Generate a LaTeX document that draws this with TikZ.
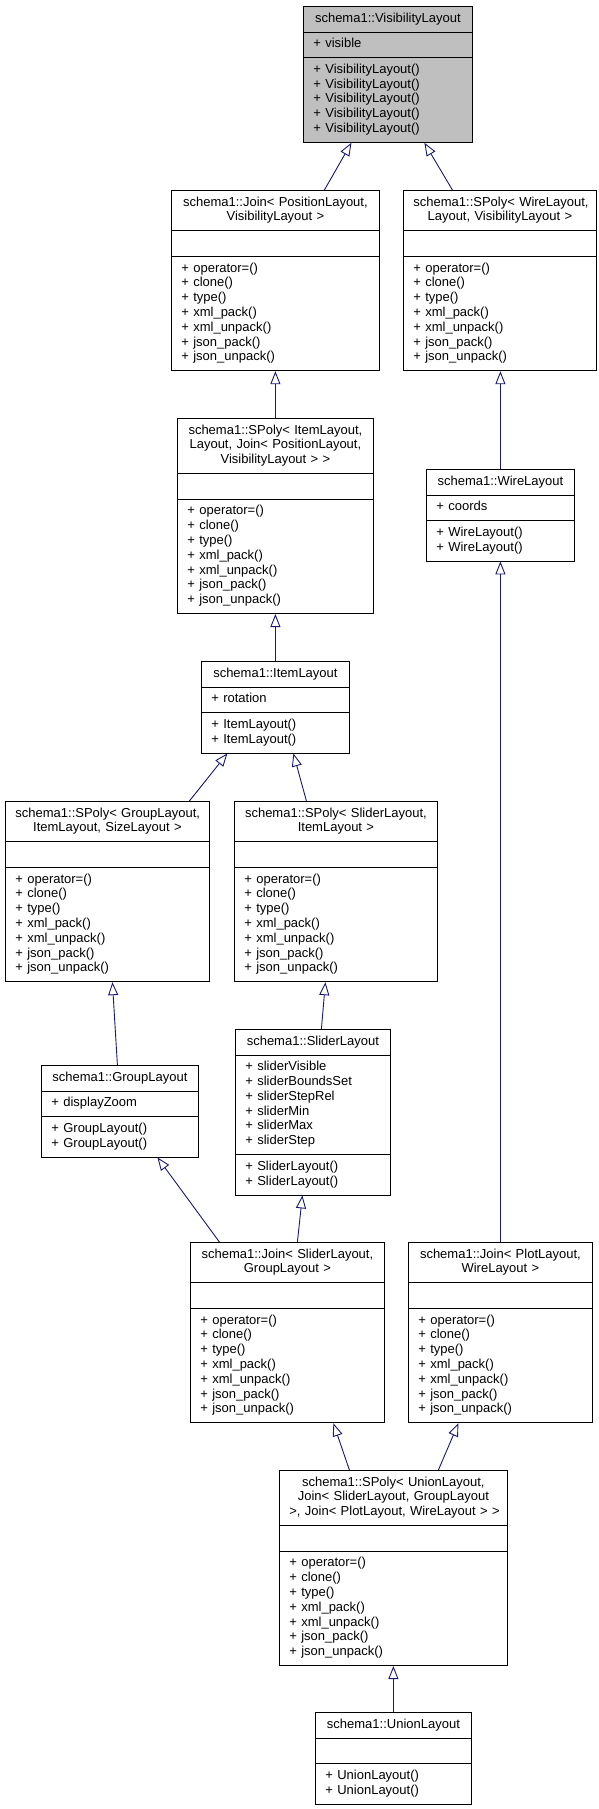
\documentclass[tikz,border=0pt]{standalone}
\usepackage{fontspec}
\setmainfont{Liberation Sans}
\usetikzlibrary{shapes.multipart,arrows.meta}
\definecolor{edgeblue}{HTML}{191970}
\definecolor{boxgray}{HTML}{BFBFBF}
\newcommand{\clsname}[1]{\strut\mbox{#1}\par}
\newcommand{\mem}[1]{\raggedright\strut\mbox{+ #1}\par}
\newcommand{\polyops}{\mem{operator=()}\mem{clone()}\mem{type()}\mem{xml\_pack()}\mem{xml\_unpack()}\mem{json\_pack()}\mem{json\_unpack()}}
\tikzset{
    cls/.style={draw=black, line width=0.8pt, fill=white, anchor=north west,
                rectangle split, rectangle split parts=3, align=center,
                inner xsep=10pt, inner ysep=5pt,
                font=\fontsize{13}{14.8}\selectfont},
    inherit/.style={draw=edgeblue, line width=0.9pt, -{Triangle[open,length=13pt,width=10pt]}}
}
\begin{document}
\begin{tikzpicture}[x=1pt,y=-1pt]
    \useasboundingbox (0,0) rectangle (599,1809);
    % top row
    \node[cls,fill=boxgray,text width=149pt] (vis) at (303,6) {\clsname{schema1::VisibilityLayout}
        \nodepart{two}\mem{visible}
        \nodepart{three}\mem{VisibilityLayout()}\mem{VisibilityLayout()}\mem{VisibilityLayout()}\mem{VisibilityLayout()}\mem{VisibilityLayout()}};
    \node[cls,text width=188pt] (joinpv) at (171,190) {\clsname{schema1::Join< PositionLayout,}\clsname{VisibilityLayout >}
        \nodepart{two}\strut
        \nodepart{three}\polyops};
    \node[cls,text width=173pt] (spolywire) at (403,190) {\clsname{schema1::SPoly< WireLayout,}\clsname{Layout, VisibilityLayout >}
        \nodepart{two}\strut
        \nodepart{three}\polyops};
    % second row
    \node[cls,text width=176pt] (spolyitem) at (177,418) {\clsname{schema1::SPoly< ItemLayout,}\clsname{Layout, Join< PositionLayout,}\clsname{VisibilityLayout > >}
        \nodepart{two}\strut
        \nodepart{three}\polyops};
    \node[cls,text width=128pt] (wire) at (426,469) {\clsname{schema1::WireLayout}
        \nodepart{two}\mem{coords}
        \nodepart{three}\mem{WireLayout()}\mem{WireLayout()}};
    \node[cls,text width=128pt] (item) at (201,661) {\clsname{schema1::ItemLayout}
        \nodepart{two}\mem{rotation}
        \nodepart{three}\mem{ItemLayout()}\mem{ItemLayout()}};
    % third row
    \node[cls,text width=184pt] (spolygroup) at (5,801) {\clsname{schema1::SPoly< GroupLayout,}\clsname{ItemLayout, SizeLayout >}
        \nodepart{two}\strut
        \nodepart{three}\polyops};
    \node[cls,text width=183pt] (spolyslider) at (234,801) {\clsname{schema1::SPoly< SliderLayout,}\clsname{ItemLayout >}
        \nodepart{two}\strut
        \nodepart{three}\polyops};
    \node[cls,text width=137pt] (group) at (41,1065) {\clsname{schema1::GroupLayout}
        \nodepart{two}\mem{displayZoom}
        \nodepart{three}\mem{GroupLayout()}\mem{GroupLayout()}};
    \node[cls,text width=135pt] (slider) at (235,1029) {\clsname{schema1::SliderLayout}
        \nodepart{two}\mem{sliderVisible}\mem{sliderBoundsSet}\mem{sliderStepRel}\mem{sliderMin}\mem{sliderMax}\mem{sliderStep}
        \nodepart{three}\mem{SliderLayout()}\mem{SliderLayout()}};
    % bottom rows
    \node[cls,text width=174pt] (joinsg) at (190,1242) {\clsname{schema1::Join< SliderLayout,}\clsname{GroupLayout >}
        \nodepart{two}\strut
        \nodepart{three}\polyops};
    \node[cls,text width=164pt] (joinpw) at (408,1242) {\clsname{schema1::Join< PlotLayout,}\clsname{WireLayout >}
        \nodepart{two}\strut
        \nodepart{three}\polyops};
    \node[cls,text width=208pt] (spolyunion) at (279,1470) {\clsname{schema1::SPoly< UnionLayout,}\clsname{Join< SliderLayout, GroupLayout}\clsname{>, Join< PlotLayout, WireLayout > >}
        \nodepart{two}\strut
        \nodepart{three}\polyops};
    \node[cls,text width=136pt] (union) at (315,1712) {\clsname{schema1::UnionLayout}
        \nodepart{two}\strut
        \nodepart{three}\mem{UnionLayout()}\mem{UnionLayout()}};

    % inheritance
    \draw[inherit] ([xshift=49pt]joinpv.north) -- ([xshift=-36.5pt]vis.south);
    \draw[inherit] ([xshift=-47.5pt]spolywire.north) -- ([xshift=36.5pt]vis.south);
    \draw[inherit] (spolyitem.north) -- (joinpv.south);
    \draw[inherit] (wire.north) -- (wire.north |- spolywire.south);
    \draw[inherit] (item.north) -- (spolyitem.south);
    \draw[inherit] ([xshift=82pt]spolygroup.north) -- ([xshift=-48pt]item.south);
    \draw[inherit] ([xshift=-29.5pt]spolyslider.north) -- ([xshift=18pt]item.south);
    \draw[inherit] ([xshift=-2.5pt]group.north) -- ([xshift=5pt]spolygroup.south);
    \draw[inherit] ([xshift=8.5pt]slider.north) -- ([xshift=-10.5pt]spolyslider.south);
    \draw[inherit] ([xshift=-68pt]joinsg.north) -- ([xshift=37.5pt]group.south);
    \draw[inherit] ([xshift=10pt]joinsg.north) -- ([xshift=-10.5pt]slider.south);
    \draw[inherit] (joinpw.north) -- (joinpw.north |- wire.south);
    \draw[inherit] ([xshift=-44pt]spolyunion.north) -- ([xshift=46pt]joinsg.south);
    \draw[inherit] ([xshift=45pt]spolyunion.north) -- ([xshift=-42pt]joinpw.south);
    \draw[inherit] (union.north) -- (spolyunion.south);
\end{tikzpicture}
\end{document}
